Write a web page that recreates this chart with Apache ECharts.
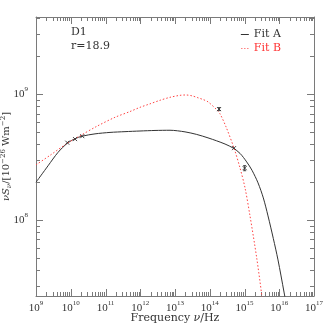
<!DOCTYPE html>
<html><head><meta charset="utf-8">
<script src="https://cdn.jsdelivr.net/npm/echarts@6.0.0/dist/echarts.min.js"></script>
<style>html,body{margin:0;padding:0;background:#fff}#c{width:332px;height:332px}</style>
</head><body><div id="c"></div>
<script>
// Fit A (solid black)
const fitAFreq = [1e9, 2.215e9, 4.30e9, 8.06e9, 1.325e10, 2.15e10, 4.99e10, 1.348e11, 3.64e11, 9.83e11, 2.66e12, 7.18e12, 1.94e13, 4.21e13, 8.90e13, 1.585e14, 2.75e14, 4.76e14, 7.42e14, 1.157e15, 1.644e15, 2.45e15, 3.48e15, 4.75e15, 6.74e15, 9.20e15, 1.37e16, 2.04e16];
const fitAVal  = [1.99e8, 2.69e8, 3.44e8, 4.08e8, 4.42e8, 4.63e8, 4.83e8, 4.96e8, 5.03e8, 5.09e8, 5.14e8, 5.16e8, 5.01e8, 4.78e8, 4.49e8, 4.25e8, 4.01e8, 3.72e8, 3.38e8, 2.89e8, 2.48e8, 1.97e8, 1.496e8, 1.076e8, 7.13e7, 4.81e7, 2.67e7, 1.46e7];
// Fit B (red dotted)
const fitBFreq = [1e9, 2.53e9, 8.06e9, 1.846e10, 5.58e10, 1.877e11, 5.07e11, 9.83e11, 1.909e12, 3.70e12, 7.18e12, 1.393e13, 2.07e13, 3.08e13, 4.59e13, 6.52e13, 8.90e13, 1.544e14, 1.972e14, 2.94e14, 4.99e14, 7.42e14, 1.034e15, 1.44e15, 2.245e15, 3.13e15, 4.16e15];
const fitBVal  = [2.74e8, 3.26e8, 4.08e8, 4.66e8, 5.54e8, 6.54e8, 7.27e8, 7.85e8, 8.37e8, 8.93e8, 9.43e8, 9.78e8, 9.84e8, 9.69e8, 9.35e8, 9.04e8, 8.68e8, 7.57e8, 6.97e8, 5.49e8, 3.72e8, 2.59e8, 1.80e8, 1.076e8, 4.99e7, 2.53e7, 1.285e7];
// Observed points with errors
const ptFreq = [7.94e9, 1.33e10, 2.15e10, 1.85e14, 4.99e14, 1.01e15];
const ptVal  = [4.11e8, 4.39e8, 4.63e8, 7.6e8, 3.72e8, 2.58e8];
const ptErr  = [0, 0, 0, 0.21e8, 0, 0.12e8];
// axis ranges (powers of ten)
const xExpMin = 9, xExpMax = 17;
const yExpMin = 7.395, yExpMax = 9.613;
const xMajorExp = [9, 10, 11, 12, 13, 14, 15, 16, 17];
const yMajorExp = [8, 9];

const lg = Math.log10;
const xMinor = [], yMinor = [];
for (let n = 9; n < 17; n++) for (let k = 2; k <= 9; k++) xMinor.push(lg(k * Math.pow(10, n)));
for (let n = 7; n <= 9; n++) for (let k = 2; k <= 9; k++) { const v = lg(k * Math.pow(10, n)); if (v > yExpMin && v < yExpMax) yMinor.push(v); }

const AX = '#7a7a7a';
const TXT = '#333';
const rich = {
  b: {fontSize: 11, fontFamily: 'Liberation Serif', color: TXT, lineHeight: 16},
  s: {fontSize: 7, fontFamily: 'Liberation Serif', color: TXT, lineHeight: 8, verticalAlign: 'top'}
};
const fmt = v => '{b|10}{s|' + Math.round(v) + '}';

const chart = echarts.init(document.getElementById('c'), null, {renderer: 'canvas'});
chart.setOption({
  animation: false,
  backgroundColor: '#fff',
  grid: {left: 36, right: 18, top: 17, bottom: 36, outerBoundsMode: 'none'},
  xAxis: [{
    type: 'value', position: 'bottom', min: xExpMin, max: xExpMax,
    axisLine: {show: true, lineStyle: {color: AX, width: 1}},
    axisTick: {show: false},
    axisLabel: {show: true, customValues: xMajorExp, formatter: fmt, rich: rich, margin: 4},
    splitLine: {show: false},
    name: 'Frequency {i|ν}/Hz', nameLocation: 'middle', nameGap: 17, nameMoveOverlap: false,
    nameTextStyle: {fontFamily: 'DejaVu Serif', fontSize: 11, color: TXT, verticalAlign: 'top', rich: {i: {fontFamily: 'DejaVu Serif', fontStyle: 'italic', fontSize: 11, color: TXT}}}
  }, {
    type: 'value', position: 'top', min: xExpMin, max: xExpMax,
    axisLine: {show: true, lineStyle: {color: AX, width: 1}},
    axisTick: {show: false}, axisLabel: {show: false}, splitLine: {show: false}
  }],
  yAxis: [{
    type: 'value', position: 'left', min: yExpMin, max: yExpMax,
    axisLine: {show: true, lineStyle: {color: AX, width: 1}},
    axisTick: {show: false},
    axisLabel: {show: true, customValues: yMajorExp, formatter: fmt, rich: rich, margin: 8},
    splitLine: {show: false},
    name: '{i|νS}{sub|ν}/[10{sup|−26} Wm{sup|−2}]', nameLocation: 'middle', nameGap: 23, nameRotate: 90, nameMoveOverlap: false,
    nameTextStyle: {fontFamily: 'DejaVu Serif', fontSize: 10, color: TXT, rich: {
      i: {fontFamily: 'DejaVu Serif', fontStyle: 'italic', fontSize: 10, color: TXT, lineHeight: 13},
      sub: {fontFamily: 'DejaVu Serif', fontStyle: 'italic', fontSize: 7, color: TXT, lineHeight: 6, verticalAlign: 'bottom'},
      sup: {fontFamily: 'DejaVu Serif', fontSize: 7, color: TXT, lineHeight: 6, verticalAlign: 'top'}
    }}
  }, {
    type: 'value', position: 'right', min: yExpMin, max: yExpMax,
    axisLine: {show: true, lineStyle: {color: AX, width: 1}},
    axisTick: {show: false}, axisLabel: {show: false}, splitLine: {show: false}
  }],
  legend: {
    orient: 'vertical', right: 46, top: 24, itemWidth: 8, itemHeight: 1, itemGap: 3,
    textStyle: {fontFamily: 'DejaVu Serif', fontSize: 11},
    data: [
      {name: 'Fit A', icon: 'rect', itemStyle: {color: '#333'}, textStyle: {color: TXT}},
      {name: 'Fit B', icon: 'path://M0,0h1v1h-1zM3,0h1v1h-1zM6,0h1v1h-1z', itemStyle: {color: '#ff4444'}, textStyle: {color: '#ff3333'}}
    ]
  },
  graphic: [
    {type: 'text', left: 71, top: 27, style: {text: 'D1', font: '11px "DejaVu Serif"', fill: TXT}},
    {type: 'text', left: 71, top: 41, style: {text: 'r=18.9', font: '11px "DejaVu Serif"', fill: TXT}}
  ],
  series: [
    {name: 'Fit A', type: 'line', smooth: 0.3, showSymbol: false, symbol: 'none', clip: true,
     lineStyle: {color: '#333', width: 1}, itemStyle: {color: '#333'},
     data: fitAFreq.map((f, i) => [lg(f), lg(fitAVal[i])])},
    {name: 'Fit B', type: 'line', smooth: 0.3, showSymbol: false, symbol: 'none', clip: true,
     lineStyle: {color: '#ff4444', width: 1, type: [1.5, 2]}, itemStyle: {color: '#ff4444'},
     data: fitBFreq.map((f, i) => [lg(f), lg(fitBVal[i])])},
    {name: 'data', type: 'custom', z: 5,
     data: ptFreq.map((f, i) => [lg(f), lg(ptVal[i]), lg(ptVal[i] - ptErr[i]), lg(ptVal[i] + ptErr[i])]),
     renderItem: function (params, api) {
       const p = api.coord([api.value(0), api.value(1)]);
       const lo = api.coord([api.value(0), api.value(2)]);
       const hi = api.coord([api.value(0), api.value(3)]);
       const st = {stroke: '#333', lineWidth: 0.9};
       const s = 2, c = 1.5;
       const ch = [
         {type: 'line', shape: {x1: p[0] - s, y1: p[1] - s, x2: p[0] + s, y2: p[1] + s}, style: st},
         {type: 'line', shape: {x1: p[0] - s, y1: p[1] + s, x2: p[0] + s, y2: p[1] - s}, style: st}
       ];
       if (Math.abs(hi[1] - lo[1]) > 1) {
         ch.push({type: 'line', shape: {x1: p[0], y1: lo[1], x2: p[0], y2: hi[1]}, style: st});
         ch.push({type: 'line', shape: {x1: p[0] - c, y1: lo[1], x2: p[0] + c, y2: lo[1]}, style: st});
         ch.push({type: 'line', shape: {x1: p[0] - c, y1: hi[1], x2: p[0] + c, y2: hi[1]}, style: st});
       }
       return {type: 'group', children: ch};
     }},
    {name: 'xticks', type: 'custom', z: 3, silent: true,
     data: xMajorExp.map(v => [v, yExpMin, 7]).concat(xMinor.map(v => [v, yExpMin, 4])),
     renderItem: function (params, api) {
       const b = api.coord([api.value(0), yExpMin]);
       const t = api.coord([api.value(0), yExpMax]);
       const L = api.value(2);
       const st = {stroke: AX, lineWidth: 1};
       const x = Math.round(b[0]) + 0.5;
       return {type: 'group', children: [
         {type: 'line', shape: {x1: x, y1: b[1], x2: x, y2: b[1] - L}, style: st},
         {type: 'line', shape: {x1: x, y1: t[1], x2: x, y2: t[1] + L}, style: st}
       ]};
     }},
    {name: 'yticks', type: 'custom', z: 3, silent: true,
     data: yMajorExp.map(v => [xExpMin, v, 7]).concat(yMinor.map(v => [xExpMin, v, 4])),
     renderItem: function (params, api) {
       const l = api.coord([xExpMin, api.value(1)]);
       const r = api.coord([xExpMax, api.value(1)]);
       const L = api.value(2);
       const st = {stroke: AX, lineWidth: 1};
       const y = Math.round(l[1]) + 0.5;
       return {type: 'group', children: [
         {type: 'line', shape: {x1: l[0], y1: y, x2: l[0] + L, y2: y}, style: st},
         {type: 'line', shape: {x1: r[0], y1: y, x2: r[0] - L, y2: y}, style: st}
       ]};
     }}
  ]
});
</script>
</body></html>
